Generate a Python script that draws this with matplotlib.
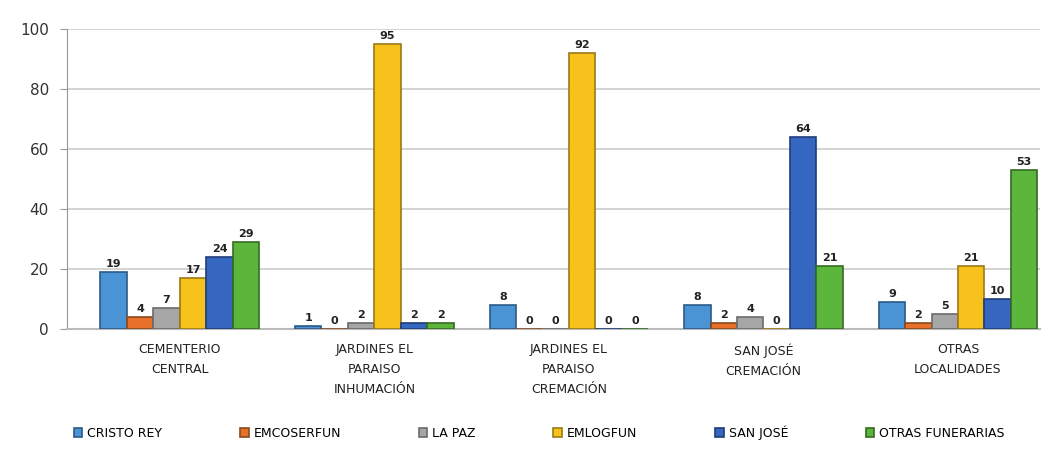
import matplotlib
matplotlib.use("Agg")
import matplotlib.pyplot as plt
import numpy as np

categories = ["CEMENTERIO\nCENTRAL", "JARDINES EL\nPARAISO\nINHUMACIÓN",
              "JARDINES EL\nPARAISO\nCREMACIÓN", "SAN JOSÉ\nCREMACIÓN", "OTRAS\nLOCALIDADES"]
series_names = ["CRISTO REY", "EMCOSERFUN", "LA PAZ", "EMLOGFUN", "SAN JOSÉ", "OTRAS FUNERARIAS"]
cristo_rey = [19, 1, 8, 8, 9]
emcoserfun = [4, 0, 0, 2, 2]
la_paz = [7, 2, 0, 4, 5]
emlogfun = [17, 95, 92, 0, 21]
san_jose = [24, 2, 0, 64, 10]
otras = [29, 2, 0, 21, 53]
series = [cristo_rey, emcoserfun, la_paz, emlogfun, san_jose, otras]
yticks = [0, 20, 40, 60, 80, 100]

colors = ["#4a94d6", "#e8702a", "#a6a6a6", "#f7c21b", "#3566c0", "#5cb63c"]
edges = ["#2b5a86", "#8a4a1e", "#6b6b6b", "#9a7a14", "#1f3d78", "#356b22"]

fig = plt.figure(figsize=(10.47, 4.51), dpi=100)
ax = fig.add_axes([0.064, 0.27, 0.929, 0.665])

x = np.arange(len(categories))
w = 0.136
n = len(series)
for i, (vals, name) in enumerate(zip(series, series_names)):
    pos = x + (i - (n - 1) / 2) * w + 0.08
    ax.bar(pos, vals, width=w, color=colors[i], edgecolor=edges[i],
           linewidth=1.2, label=name, zorder=3)
    for p, v in zip(pos, vals):
        ax.text(p, v + 1.2, str(v), ha="center", va="bottom", fontsize=8,
                fontweight="bold", color="#222222", zorder=4)

ax.set_xlim(-0.5, len(categories) - 0.5)
ax.set_ylim(0, 100)
ax.set_yticks(yticks)
ax.set_yticklabels([str(t) for t in yticks], fontsize=11, color="#333333")
ax.set_xticks(x + 0.08)
ax.set_xticklabels(categories, fontsize=9, color="#222222", linespacing=1.7)
ax.tick_params(axis="x", length=0, pad=10)
ax.tick_params(axis="y", length=5, color="#999999", pad=8)
ax.grid(axis="y", color="#cccccc", linewidth=1.2, zorder=0)
for s in ["top", "right"]:
    ax.spines[s].set_visible(False)
ax.spines["left"].set_color("#999999")
ax.spines["bottom"].set_color("#bbbbbb")
ax.spines["bottom"].set_linewidth(1.5)

fig.legend(loc="lower center", bbox_to_anchor=(0.515, 0.0), ncol=6, frameon=False,
           fontsize=9, handlelength=0.7, handleheight=0.7, columnspacing=6.2,
           handletextpad=0.4)

fig.savefig("out.png", dpi=100, facecolor="white")
